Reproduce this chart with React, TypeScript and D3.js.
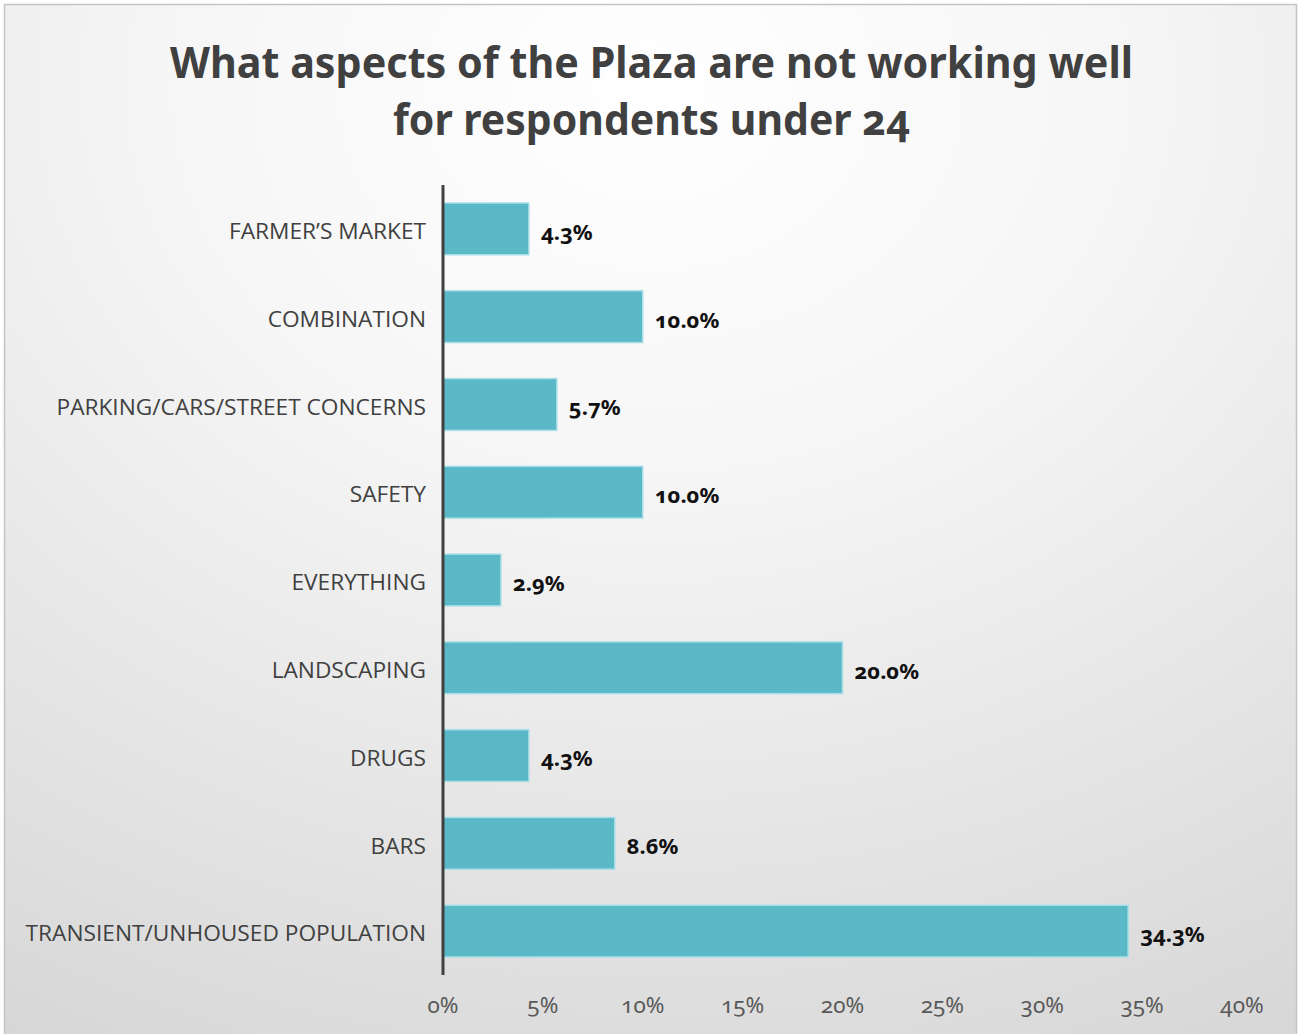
import React from "react";
import * as d3 from "d3";

const categories = [
  "FARMER’S MARKET",
  "COMBINATION",
  "PARKING/CARS/STREET CONCERNS",
  "SAFETY",
  "EVERYTHING",
  "LANDSCAPING",
  "DRUGS",
  "BARS",
  "TRANSIENT/UNHOUSED POPULATION",
];
const values = [4.3, 10.0, 5.7, 10.0, 2.9, 20.0, 4.3, 8.6, 34.3];
const tickValues = [0, 5, 10, 15, 20, 25, 30, 35, 40];
const titleLines = [
  "What aspects of the Plaza are not working well",
  "for respondents under 24",
];
const titleWidths = [963, 517];

const W = 1298;
const H = 1040;

export default function App() {
  const x = d3.scaleLinear().domain([0, 40]).range([443, 1242]);
  const y = d3
    .scaleBand<string>()
    .domain(categories)
    .range([185, 975])
    .paddingInner(0.41)
    .paddingOuter(0.205);

  return (
    <svg
      width={W}
      height={H}
      style={{ position: "absolute", left: 0, top: 0, display: "block" }}
    >
      <defs>
        <radialGradient id="bg" cx="50%" cy="8%" r="105%" fx="50%" fy="8%">
          <stop offset="0%" stopColor="#ffffff" />
          <stop offset="35%" stopColor="#f6f6f6" />
          <stop offset="100%" stopColor="#d6d6d6" />
        </radialGradient>
      </defs>
      <rect x={4.5} y={4.5} width={W - 6} height={H} fill="url(#bg)" stroke="#c4c4c4" strokeWidth={1.5} />

      {titleLines.map((t, i) => (
        <text
          key={i}
          x={651.5}
          y={78 + i * 57}
          textAnchor="middle"
          fontFamily="'Noto Sans', sans-serif"
          fontWeight={700}
          fontSize={43}
          fill="#404040"
          textLength={titleWidths[i]}
          lengthAdjust="spacingAndGlyphs"
          style={{ fontVariantNumeric: "oldstyle-nums" }}
        >
          {t}
        </text>
      ))}

      {categories.map((c, i) => {
        const by = y(c)!;
        const bh = y.bandwidth();
        return (
          <g key={c}>
            <rect
              x={x(0)}
              y={by}
              width={x(values[i]) - x(0)}
              height={bh}
              fill="#5bb8c6"
              stroke="#a8dfe8"
              strokeWidth={1.5}
            />
            <text
              x={426}
              y={by + bh / 2 + 2}
              dy="0.36em"
              textAnchor="end"
              fontFamily="'Open Sans', sans-serif"
              fontSize={22.7}
              fill="#404040"
            >
              {c}
            </text>
            <text
              x={x(values[i]) + 12}
              y={by + bh / 2 + 3}
              dy="0.36em"
              fontFamily="'Noto Sans', sans-serif"
              fontWeight={700}
              fontSize={22}
              fill="#111111"
              style={{ fontVariantNumeric: "oldstyle-nums" }}
            >
              {values[i].toFixed(1) + "%"}
            </text>
          </g>
        );
      })}

      <line x1={443} x2={443} y1={185} y2={975} stroke="#404040" strokeWidth={3} />

      {tickValues.map((t) => (
        <text
          key={t}
          x={x(t)}
          y={1005}
          dy="0.36em"
          textAnchor="middle"
          fontFamily="'Noto Sans', sans-serif"
          fontSize={22.5}
          fill="#595959"
          style={{ fontVariantNumeric: "oldstyle-nums" }}
        >
          {t + "%"}
        </text>
      ))}
    </svg>
  );
}
